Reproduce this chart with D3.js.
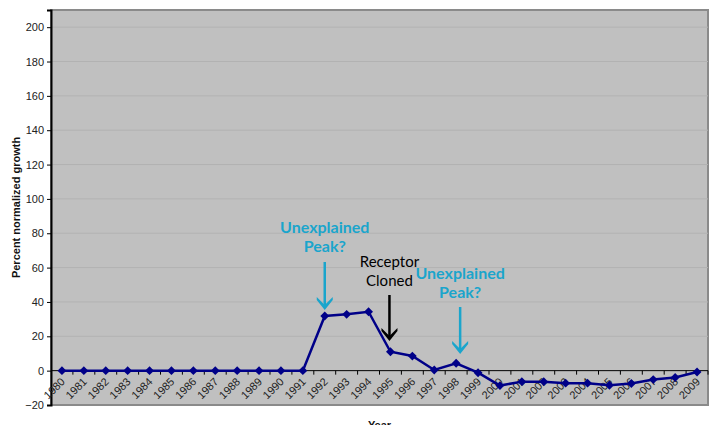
<!DOCTYPE html>
<html>
<head>
<meta charset="utf-8">
<title>Percent normalized growth by year</title>
<script src="https://cdn.jsdelivr.net/npm/d3@7/dist/d3.min.js"></script>
<style>
  body { margin: 0; background: #fff; }
  .ytick text { font: 11px "Liberation Sans", Arial, sans-serif; fill: #222; }
  .xlab { font: 11px "Liberation Sans", Arial, sans-serif; fill: #222; }
  .title { font: bold 11px "Liberation Sans", Arial, sans-serif; fill: #111; }
  .note { font-family: Lato, "Open Sans", sans-serif; }
</style>
</head>
<body>
<svg></svg>
<script>
// data
var years = d3.range(1980, 2010).map(String);
var growth = [0, 0, 0, 0, 0, 0, 0, 0, 0, 0, 0, 0,
  31.8, 32.8, 34.3, 11, 8.5, 0.4, 4.3, -1.2,
  -8.7, -6.4, -6.4, -7.3, -7.3, -8.5, -7.5, -5.2, -4, -0.8];
var yTicks = [-20, 0, 20, 40, 60, 80, 100, 120, 140, 160, 180, 200];

// annotations: year they point at, label lines, colour, text/arrow y spots
var notes = [
  {year: "1992", lines: ["Unexplained", "Peak?"], color: "#1aa5cc", bold: true, size: 16, y: 233, a0: 262, a1: 310},
  {year: "1995", lines: ["Receptor", "Cloned"], color: "#000", bold: false, size: 15, y: 267, a0: 295, a1: 341, dx: -1},
  {year: "1998", lines: ["Unexplained", "Peak?"], color: "#1aa5cc", bold: true, size: 16, y: 279, a0: 307, a1: 354, dx: 4}
];

var width = 720, height = 425;
var m = {left: 51, right: 12, top: 10, bottom: 20};

var svg = d3.select("svg").attr("width", width).attr("height", height);

var x = d3.scaleBand().domain(years).range([m.left, width - m.right]);
var y = d3.scaleLinear().domain([-20, 210]).range([height - m.bottom, m.top]);

// plot area
svg.append("rect")
  .attr("x", m.left).attr("y", m.top)
  .attr("width", width - m.right - m.left)
  .attr("height", height - m.bottom - m.top)
  .attr("fill", "#c0c0c0")
  .attr("stroke", "#8a8a8a")
  .attr("stroke-width", 2);

// gridlines
svg.append("g").selectAll("line")
  .data(yTicks.filter(function(d) { return d > 0; }))
  .enter().append("line")
    .attr("x1", m.left).attr("x2", width - m.right)
    .attr("y1", function(d) { return y(d); })
    .attr("y2", function(d) { return y(d); })
    .attr("stroke", "#b2b2b2")
    .attr("stroke-width", 1);

// y axis
var yAxis = svg.append("g")
  .attr("class", "ytick")
  .attr("transform", "translate(" + m.left + ",0)")
  .call(d3.axisLeft(y).tickValues(yTicks).tickSize(4).tickPadding(3));
yAxis.select(".domain").attr("stroke", "#000").attr("stroke-width", 2);

// x axis sits at zero
var xg = svg.append("g").attr("transform", "translate(0," + y(0) + ")");
xg.append("line")
  .attr("x1", m.left).attr("x2", width - m.right)
  .attr("stroke", "#000").attr("stroke-width", 1);
xg.selectAll(".tk")
  .data(years)
  .enter().append("line")
    .attr("x1", function(d) { return x(d) + x.bandwidth(); })
    .attr("x2", function(d) { return x(d) + x.bandwidth(); })
    .attr("y1", 0).attr("y2", 4)
    .attr("stroke", "#000");
xg.selectAll(".xlab")
  .data(years)
  .enter().append("text")
    .attr("class", "xlab")
    .attr("text-anchor", "end")
    .attr("dy", ".35em")
    .attr("transform", function(d) {
      return "translate(" + (x(d) + x.bandwidth() / 2 + 1) + ",9) rotate(-45)";
    })
    .text(function(d) { return d; });

// series
var pts = years.map(function(d, i) { return {year: d, v: growth[i]}; });
var line = d3.line()
  .x(function(d) { return x(d.year) + x.bandwidth() / 2; })
  .y(function(d) { return y(d.v); });

svg.append("path")
  .datum(pts)
  .attr("d", line)
  .attr("fill", "none")
  .attr("stroke", "#000088")
  .attr("stroke-width", 2.5);

svg.append("g").selectAll("path")
  .data(pts)
  .enter().append("path")
    .attr("d", d3.symbol(d3.symbolDiamond2, 50))
    .attr("transform", function(d) {
      return "translate(" + (x(d.year) + x.bandwidth() / 2) + "," + y(d.v) + ")";
    })
    .attr("fill", "#000088");

// annotations
notes.forEach(function(n) {
  var cx = x(n.year) + x.bandwidth() / 2 + (n.dx || 0);
  var t = svg.append("text")
    .attr("class", "note")
    .attr("text-anchor", "middle")
    .attr("fill", n.color)
    .style("font-size", n.size + "px")
    .style("font-weight", n.bold ? "bold" : "normal");
  n.lines.forEach(function(s, i) {
    t.append("tspan").attr("x", cx).attr("y", n.y + i * 19).text(s);
  });
  svg.append("line")
    .attr("x1", cx).attr("x2", cx)
    .attr("y1", n.a0).attr("y2", n.a1 - 4)
    .attr("stroke", n.color).attr("stroke-width", 2.5);
  svg.append("path")
    .attr("d", "M" + (cx - 8) + "," + (n.a1 - 13) + " L" + cx + "," + (n.a1 - 5) +
      " L" + (cx + 8) + "," + (n.a1 - 13) + " L" + (cx + 8) + "," + (n.a1 - 10) +
      " L" + cx + "," + n.a1 + " L" + (cx - 8) + "," + (n.a1 - 10) + "Z")
    .attr("fill", n.color);
});

// axis titles
svg.append("text")
  .attr("class", "title")
  .attr("text-anchor", "middle")
  .attr("transform", "translate(20," + ((m.top + height - m.bottom) / 2) + ") rotate(-90)")
  .text("Percent normalized growth");

// sits at the bottom edge, partly cut as in the source
svg.append("text")
  .attr("class", "title")
  .attr("text-anchor", "middle")
  .attr("x", (m.left + width - m.right) / 2)
  .attr("y", 429)
  .text("Year");
</script>
</body>
</html>
